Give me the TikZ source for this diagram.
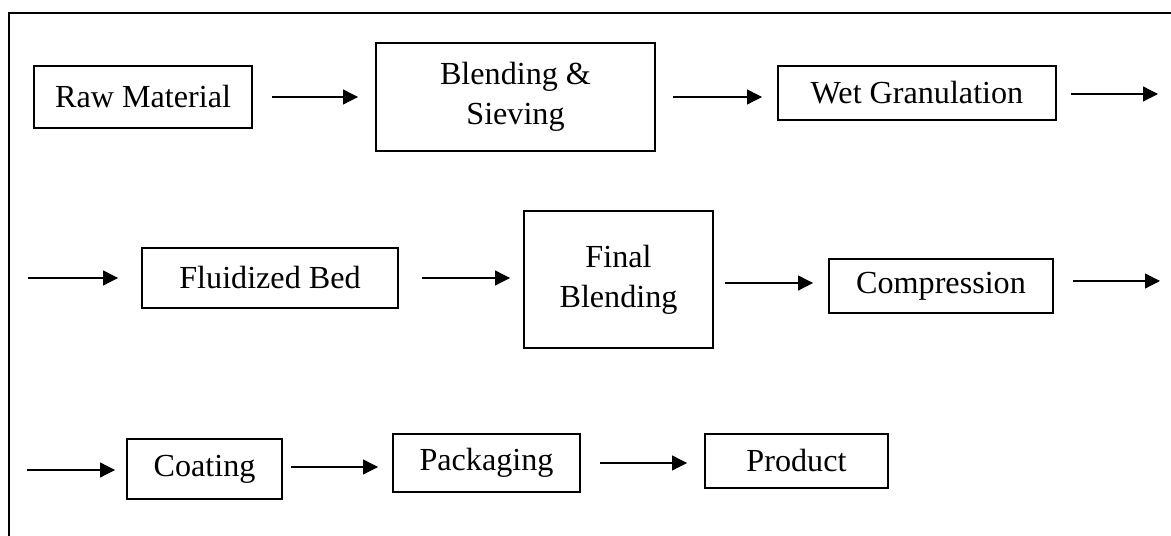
\documentclass[tikz,border=0pt]{standalone}
\usepackage{fontspec}
\setmainfont{Liberation Serif}
\usetikzlibrary{arrows.meta}

\begin{document}
\begin{tikzpicture}[x=0.02cm,y=-0.02cm,
	box/.style={draw,line width=0.8pt,inner sep=0pt,outer sep=0pt,align=center,
		font=\fontsize{18.3}{22.7}\selectfont},
	flow/.style={line width=0.7pt,-{Triangle[length=0.3cm,width=0.3cm]}}]
	\useasboundingbox (0,0) rectangle (1171,536);
	\draw[line width=0.8pt] (9,13) rectangle (1185,550);
	
	% first row
	\node[box,minimum width=4.36cm,minimum height=1.24cm] (raw) at (143,97) {Raw Material};
	\node[box,minimum width=5.58cm,minimum height=2.16cm] (blend) at (515.5,97) {Blending \&\\Sieving};
	\node[box,minimum width=5.56cm,minimum height=1.08cm] (wet) at (917,93) {Wet Granulation};
	\coordinate (wetout) at (1158,94);
	
	% second row
	\coordinate (fluidin) at (28,278);
	\node[box,minimum width=5.12cm,minimum height=1.20cm] (fluid) at (270,278) {Fluidized Bed};
	\node[box,minimum width=3.78cm,minimum height=2.74cm] (final) at (618.5,279.5) {Final\\Blending};
	\node[box,minimum width=4.48cm,minimum height=1.08cm] (comp) at (941,286) {Compression};
	\coordinate (compout) at (1160,281);
	
	% third row
	\coordinate (coatin) at (27,470);
	\node[box,minimum width=3.10cm,minimum height=1.20cm] (coat) at (204.5,469) {Coating};
	\node[box,minimum width=3.74cm,minimum height=1.16cm] (pack) at (486.5,463) {Packaging};
	\node[box,minimum width=3.66cm,minimum height=1.08cm] (prod) at (796.5,461) {Product};
	
	% arrows
	\draw[flow,shorten <=0.40cm,shorten >=0.36cm] (raw.east) -- (raw.east -| blend.west);
	\draw[flow,shorten <=0.36cm,shorten >=0.32cm] (blend.east) -- (blend.east -| wet.west);
	\draw[flow,shorten <=0.30cm] (wet.east |- wetout) -- (wetout);
	\draw[flow,shorten >=0.48cm] (fluidin) -- (fluidin -| fluid.west);
	\draw[flow,shorten <=0.48cm,shorten >=0.28cm] (fluid.east) -- (fluid.east -| final.west);
	\draw[flow,shorten <=0.24cm,shorten >=0.32cm] (final.east |- 0,283) -- (comp.west |- 0,283);
	\draw[flow,shorten <=0.40cm] (comp.east |- compout) -- (compout);
	\draw[flow,shorten >=0.24cm] (coatin) -- (coatin -| coat.west);
	\draw[flow,shorten <=0.18cm,shorten >=0.30cm] (coat.east |- 0,467) -- (pack.west |- 0,467);
	\draw[flow,shorten <=0.40cm,shorten >=0.36cm] (pack.east |- 0,463) -- (prod.west |- 0,463);
\end{tikzpicture}
\end{document}
